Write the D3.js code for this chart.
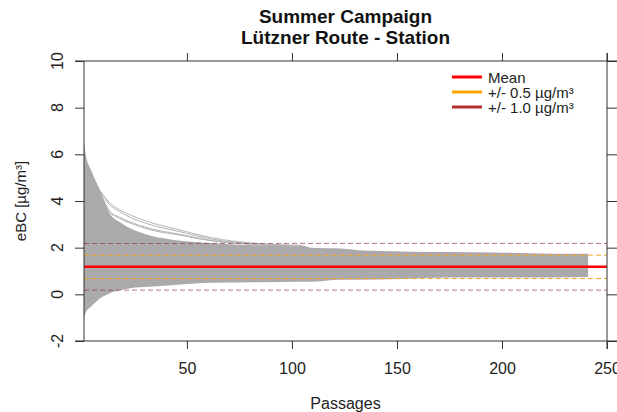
<!DOCTYPE html>
<html>
<head>
<meta charset="utf-8">
<script src="https://cdn.jsdelivr.net/npm/d3@7"></script>
<style>
  body { margin: 0; background: #fff; }
  svg { font-family: "Liberation Sans", Arial, sans-serif; }
</style>
</head>
<body>
<div id="chart"></div>
<script>
// envelope of the grey bootstrap running means
const passages  = [1, 2, 4, 6, 9, 13, 18, 23, 32, 47, 61, 85, 104, 109, 123, 132, 152, 175, 197, 224, 241];
const bandUpper = [6.5, 5.9, 5.4, 4.97, 4.4, 3.5, 3.1, 2.83, 2.53, 2.3, 2.2, 2.1, 2.1, 2.0, 1.96, 1.89, 1.84, 1.81, 1.79, 1.74, 1.74];
const bandLower = [-1.03, -0.75, -0.55, -0.38, -0.15, 0.04, 0.17, 0.26, 0.32, 0.42, 0.5, 0.52, 0.54, 0.54, 0.63, 0.63, 0.66, 0.72, 0.72, 0.72, 0.74];

// a few single runs that stay above the bulk
const outlierPassages = [9, 13, 18, 23, 32, 47, 61, 85, 104];
const outlier1 = [4.4, 3.94, 3.62, 3.4, 3.1, 2.75, 2.44, 2.17, 2.1];
const outlier2 = [4.4, 3.86, 3.54, 3.3, 3.0, 2.68, 2.38, 2.15, 2.08];
const outlier3 = [4.3, 3.6, 3.3, 3.1, 2.83, 2.57, 2.32, 2.13, 2.06];
const outlier4 = [4.25, 3.55, 3.25, 3.05, 2.78, 2.53, 2.3, 2.12, 2.05];

const meanValue = 1.18;
const offsets = [0.5, 1.0];

const xTicks = [50, 100, 150, 200, 250];
const yTicks = [-2, 0, 2, 4, 6, 8, 10];
const legendLabels = ["Mean", "+/- 0.5 µg/m³", "+/- 1.0 µg/m³"];
const legendColors = ["#ff0000", "#ffa500", "#b03030"];

var width = 617, height = 412;
var pLeft = 84, pRight = 607, pTop = 61, pBottom = 341;

var svg = d3.select("#chart").append("svg")
  .attr("width", width)
  .attr("height", height);

var x = d3.scaleLinear().domain([1, 250]).range([pLeft, pRight]);
var y = d3.scaleLinear().domain([-2, 10]).range([pBottom, pTop]);

// grey band
var band = passages.map((p, i) => ({p: p, hi: bandUpper[i], lo: bandLower[i]}));
svg.append("path")
  .datum(band)
  .attr("d", d3.area()
    .x(d => x(d.p))
    .y0(d => y(d.lo))
    .y1(d => y(d.hi))
    .curve(d3.curveMonotoneX))
  .attr("fill", "#aaaaaa");

// outlier runs
var line = d3.line().x(d => x(d.p)).y(d => y(d.v)).curve(d3.curveMonotoneX);
[outlier1, outlier2, outlier3, outlier4].forEach(function(series) {
  svg.append("path")
    .datum(outlierPassages.map((p, i) => ({p: p, v: series[i]})))
    .attr("d", line)
    .attr("fill", "none")
    .attr("stroke", "#b4b4b4")
    .attr("stroke-width", 1);
});

// reference lines
offsets.forEach(function(o, k) {
  [meanValue - o, meanValue + o].forEach(function(v) {
    svg.append("line")
      .attr("x1", pLeft).attr("x2", pRight)
      .attr("y1", y(v)).attr("y2", y(v))
      .attr("stroke", k == 0 ? "#f5a623" : "#a52a2a")
      .attr("stroke-opacity", k == 0 ? 1 : 0.65)
      .attr("stroke-width", 1)
      .attr("stroke-dasharray", "5,3");
  });
});
svg.append("line")
  .attr("x1", pLeft).attr("x2", pRight)
  .attr("y1", y(meanValue)).attr("y2", y(meanValue))
  .attr("stroke", "#ff0000")
  .attr("stroke-width", 2.5);

// axes
var axisColor = "#333";
function styleAxis(g) {
  g.select(".domain").remove();
  g.selectAll("line").attr("stroke", axisColor);
  g.selectAll("text").attr("fill", "#222").style("font-size", "16px")
    .style("font-family", "Liberation Sans, Arial, sans-serif");
}

svg.append("g")
  .attr("transform", "translate(0," + pBottom + ")")
  .call(d3.axisBottom(x).tickValues(xTicks).tickSize(8).tickPadding(14))
  .call(styleAxis);

svg.append("g")
  .attr("transform", "translate(0," + pTop + ")")
  .call(d3.axisTop(x).tickValues(xTicks).tickSize(8).tickFormat(""))
  .call(styleAxis);

svg.append("g")
  .attr("transform", "translate(" + pRight + ",0)")
  .call(d3.axisRight(y).tickValues(yTicks).tickSize(10).tickFormat(""))
  .call(styleAxis);

svg.append("g")
  .attr("transform", "translate(" + pLeft + ",0)")
  .call(d3.axisLeft(y).tickValues(yTicks).tickSize(9).tickFormat(""))
  .call(styleAxis);

// rotated y labels like R's default
svg.selectAll(".ylab")
  .data(yTicks)
  .enter()
  .append("text")
  .attr("class", "ylab")
  .attr("transform", d => "translate(63," + y(d) + ")rotate(-90)")
  .attr("text-anchor", "middle")
  .attr("fill", "#222")
  .style("font-size", "16px")
  .text(d => d);

// frame lines
svg.append("line").attr("x1", 75).attr("x2", width).attr("y1", pTop).attr("y2", pTop)
  .attr("stroke", axisColor);
svg.append("line").attr("x1", 75).attr("x2", width).attr("y1", pBottom).attr("y2", pBottom)
  .attr("stroke", axisColor);
svg.append("line").attr("x1", pLeft).attr("x2", pLeft).attr("y1", pTop).attr("y2", pBottom)
  .attr("stroke", axisColor);
svg.append("line").attr("x1", pRight).attr("x2", pRight).attr("y1", pTop - 8).attr("y2", pBottom + 8)
  .attr("stroke", axisColor);

// titles
svg.append("text")
  .attr("x", (pLeft + pRight) / 2).attr("y", 23)
  .attr("text-anchor", "middle")
  .style("font-size", "19px").style("font-weight", "bold")
  .attr("fill", "#111")
  .text("Summer Campaign");
svg.append("text")
  .attr("x", (pLeft + pRight) / 2).attr("y", 44)
  .attr("text-anchor", "middle")
  .style("font-size", "19px").style("font-weight", "bold")
  .attr("fill", "#111")
  .text("Lützner Route - Station");

svg.append("text")
  .attr("x", (pLeft + pRight) / 2).attr("y", 409)
  .attr("text-anchor", "middle")
  .attr("fill", "#222")
  .style("font-size", "16px")
  .text("Passages");

svg.append("text")
  .attr("transform", "translate(26," + y(4) + ")rotate(-90)")
  .attr("text-anchor", "middle")
  .attr("fill", "#222")
  .style("font-size", "15px")
  .text("eBC [µg/m³]");

// legend
var legend = svg.append("g");
legendLabels.forEach(function(lab, i) {
  var ly = 77 + i * 15;
  legend.append("line")
    .attr("x1", 452).attr("x2", 482)
    .attr("y1", ly).attr("y2", ly)
    .attr("stroke", legendColors[i])
    .attr("stroke-width", 3);
  legend.append("text")
    .attr("x", 488).attr("y", ly + 5.5)
    .attr("fill", "#222")
    .style("font-size", "15px")
    .text(lab);
});
</script>
</body>
</html>
